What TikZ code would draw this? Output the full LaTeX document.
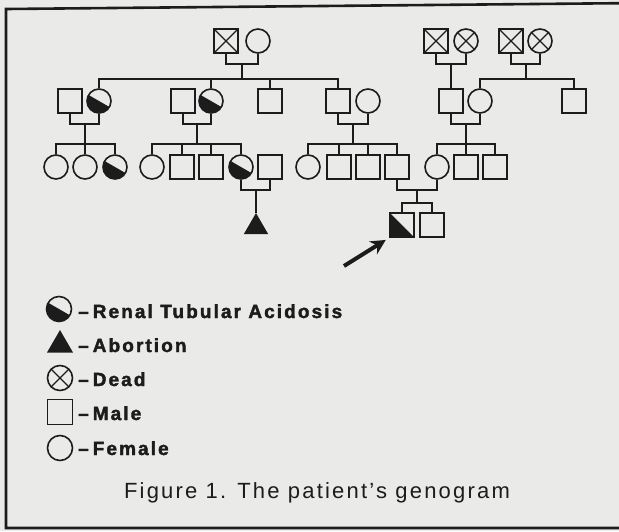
\documentclass[tikz,border=0pt]{standalone}
\usepackage{fontspec}
\setmainfont{Liberation Sans}
\newfontfamily\legfont{Liberation Sans}[LetterSpace=11,FakeBold=2]
\newfontfamily\capfont{Liberation Sans}[LetterSpace=10]
\usetikzlibrary{arrows.meta,shapes.geometric}
\definecolor{ink}{RGB}{28,28,28}
\definecolor{bg}{RGB}{234,234,232}
\begin{document}
\begin{tikzpicture}[x=1pt,y=-1pt,
  ln/.style={draw=ink,line width=1.6pt},
  male/.style={rectangle,draw=ink,line width=1.6pt,minimum size=24pt,inner sep=0pt},
  fem/.style={circle,draw=ink,line width=1.6pt,minimum size=24pt,inner sep=0pt},
  dead/.style={path picture={\draw[ink,line width=1.4pt]
     (path picture bounding box.north west) -- (path picture bounding box.south east)
     (path picture bounding box.north east) -- (path picture bounding box.south west);}},
  rta/.style={path picture={\fill[ink] (path picture bounding box.center) ++(150:14pt)
     arc[start angle=150,end angle=330,radius=14pt] -- cycle;}},
  prob/.style={path picture={\fill[ink] (path picture bounding box.north west) --
     (path picture bounding box.south west) -- (path picture bounding box.south east) -- cycle;}},
  abort/.style={regular polygon,regular polygon sides=3,fill=ink,minimum size=28pt,inner sep=0pt},
  arrowst/.style={draw=ink,line width=4pt,-{Stealth[length=15pt,width=15pt]},shorten >=4pt},
  legtext/.style={anchor=base west,inner sep=0pt,text=ink,font=\legfont\bfseries\fontsize{19}{22}\selectfont},
  captext/.style={anchor=base,inner sep=0pt,text=ink,font=\capfont\fontsize{22}{26}\selectfont}
]
\fill[bg] (0,0) rectangle (619,531);
\useasboundingbox (0,0) rectangle (619,531);
\draw[ink,line width=2.6pt] (640,3) -- (6,9) -- (6,528) -- (640,528);

% generation I
\node[male,dead] (g1a) at (226,41) {};
\node[fem] (g1b) at (258,41) {};
\node[male,dead] (g1c) at (436,41) {};
\node[fem,dead] (g1d) at (466,41) {};
\node[male,dead] (g1e) at (511,41) {};
\node[fem,dead] (g1f) at (540,41) {};

% generation II
\node[male] (a1) at (70,101) {};
\node[fem,rta] (a2) at (99,101) {};
\node[male] (a3) at (183,101) {};
\node[fem,rta] (a4) at (211,101) {};
\node[male] (a5) at (270,101) {};
\node[male] (a6) at (338,101) {};
\node[fem] (a7) at (368,101) {};
\node[male] (a8) at (451,101) {};
\node[fem] (a9) at (480,101) {};
\node[male] (a10) at (574,101) {};

% generation III
\node[fem] (b1) at (56,167) {};
\node[fem] (b2) at (85,167) {};
\node[fem,rta] (b3) at (115,167) {};
\node[fem] (b4) at (152,167) {};
\node[male] (b5) at (182,167) {};
\node[male] (b6) at (211,167) {};
\node[fem,rta] (b7) at (241,167) {};
\node[male] (b8) at (270,167) {};
\node[fem] (b9) at (308,167) {};
\node[male] (b10) at (339,167) {};
\node[male] (b11) at (368,167) {};
\node[male] (b12) at (397,167) {};
\node[fem] (b13) at (437,167) {};
\node[male] (b14) at (466,167) {};
\node[male] (b15) at (495,167) {};

% generation IV
\node[abort] (t) at (256,227) {};
\node[male,prob] (pb) at (402,225) {};
\node[male] (c2) at (432,225) {};

% coordinates
\coordinate (m1) at (242,64);  \coordinate (s1) at (242,79);
\coordinate (m2) at (451,64);
\coordinate (m3) at (526,64);  \coordinate (s3) at (526,79);
\coordinate (m4) at (85,124);  \coordinate (s4) at (85,144);
\coordinate (m5) at (197,124); \coordinate (s5) at (197,144);
\coordinate (m6) at (353,124); \coordinate (s6) at (353,144);
\coordinate (m7) at (466,124); \coordinate (s7) at (466,144);
\coordinate (m8) at (256,190);
\coordinate (m9) at (417,190); \coordinate (s9) at (417,203);
\coordinate (atail) at (344,266);

% connectors gen I
\draw[ln] (g1a.south) |- (m1) -| (g1b.south);
\draw[ln] (m1) -- (s1);
\draw[ln] (a2.north) |- (s1) -| (a6.north);
\draw[ln] (a4.north) -- (a4.north |- s1);
\draw[ln] (a5.north) -- (a5.north |- s1);
\draw[ln] (g1c.south) |- (m2) -| (g1d.south);
\draw[ln] (m2) -- (a8.north);
\draw[ln] (g1e.south) |- (m3) -| (g1f.south);
\draw[ln] (m3) -- (s3);
\draw[ln] (a9.north) |- (s3) -| (a10.north);

% connectors gen II
\draw[ln] (a1.south) |- (m4) -| (a2.south);
\draw[ln] (m4) -- (b2.north);
\draw[ln] (b1.north) |- (s4) -| (b3.north);
\draw[ln] (a3.south) |- (m5) -| (a4.south);
\draw[ln] (m5) -- (s5);
\draw[ln] (b4.north) |- (s5) -| (b7.north);
\draw[ln] (b5.north) -- (b5.north |- s5);
\draw[ln] (b6.north) -- (b6.north |- s5);
\draw[ln] (a6.south) |- (m6) -| (a7.south);
\draw[ln] (m6) -- (s6);
\draw[ln] (b9.north) |- (s6) -| (b12.north);
\draw[ln] (b10.north) -- (b10.north |- s6);
\draw[ln] (b11.north) -- (b11.north |- s6);
\draw[ln] (a8.south) |- (m7) -| (a9.south);
\draw[ln] (m7) -- (b14.north);
\draw[ln] (b13.north) |- (s7) -| (b15.north);

% connectors gen III
\draw[ln] (b7.south) |- (m8) -| (b8.south);
\draw[ln] (m8) -- (t.corner 1);
\draw[ln] (b12.south) |- (m9) -| (b13.south);
\draw[ln] (m9) -- (s9);
\draw[ln] (pb.north) |- (s9) -| (c2.north);

% proband arrow
\draw[arrowst] (atail) -- (pb.south west);

% legend
\node[fem,rta,minimum size=25pt] (l1) at (59,309) {};
\node[abort,minimum size=30pt] (l2) at (60,345) {};
\node[fem,dead,minimum size=25pt] (l3) at (60,378) {};
\node[male,minimum size=25pt] (l4) at (60,412) {};
\node[fem,minimum size=25pt] (l5) at (60,448) {};
\node[legtext] (lt1) at (78,318) {–\hspace{4pt}Renal Tubular Acidosis};
\node[legtext] (lt2) at (78,352) {–\hspace{4pt}Abortion};
\node[legtext] (lt3) at (78,386) {–\hspace{4pt}Dead};
\node[legtext] (lt4) at (78,420) {–\hspace{4pt}Male};
\node[legtext] (lt5) at (78,455) {–\hspace{4pt}Female};

% caption
\node[captext] (cap) at (317,498) {Figure 1. The patient’s genogram};
\end{tikzpicture}
\end{document}
